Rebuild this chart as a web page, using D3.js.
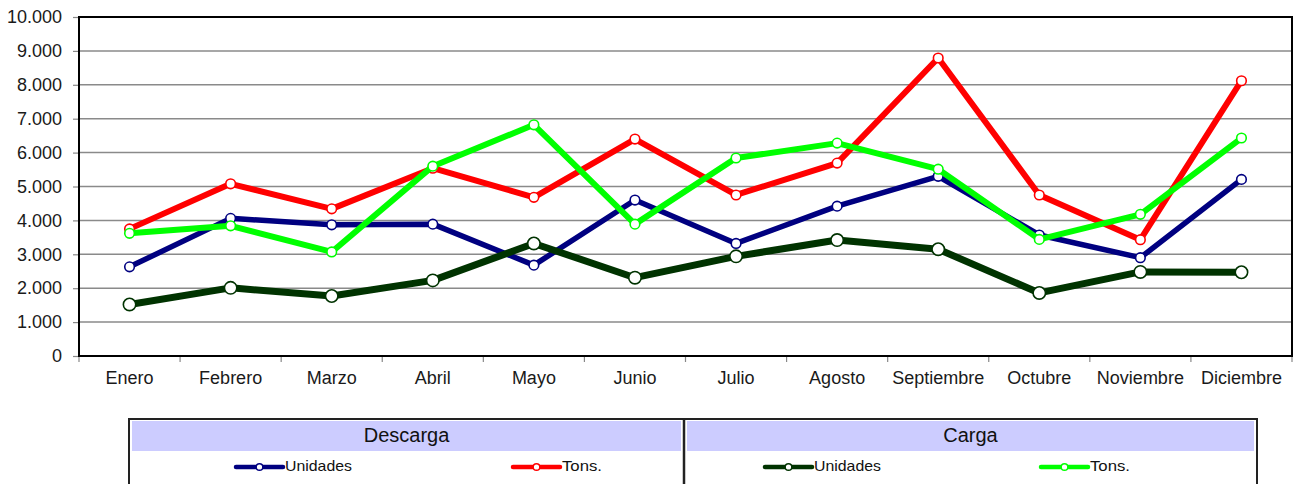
<!DOCTYPE html>
<html>
<head>
<meta charset="utf-8">
<script src="https://cdn.jsdelivr.net/npm/d3@7"></script>
<style>
  html, body { margin: 0; padding: 0; background: #fff; }
  svg { display: block; font-family: "Liberation Sans", Arial, sans-serif; }
</style>
</head>
<body>
<svg id="chart" width="1297" height="484"></svg>
<script>
// Monthly movements
const months = ["Enero", "Febrero", "Marzo", "Abril", "Mayo", "Junio", "Julio",
                "Agosto", "Septiembre", "Octubre", "Noviembre", "Diciembre"];
const yTicks = [0, 1000, 2000, 3000, 4000, 5000, 6000, 7000, 8000, 9000, 10000];

const descargaUnidades = [2630, 4060, 3870, 3890, 2680, 4600, 3320, 4420, 5300, 3570, 2900, 5210];
const descargaTons     = [3750, 5080, 4340, 5540, 4680, 6400, 4750, 5690, 8790, 4750, 3430, 8120];
const cargaUnidades    = [1520, 2010, 1770, 2230, 3320, 2310, 2940, 3420, 3150, 1860, 2480, 2470];
const cargaTons        = [3620, 3840, 3070, 5600, 6820, 3890, 5840, 6280, 5510, 3440, 4180, 6430];

const series = [
  { name: "Unidades", group: "Descarga", values: descargaUnidades, color: "#000080", width: 5.5, r: 4.8 },
  { name: "Tons.",    group: "Descarga", values: descargaTons,     color: "#ff0000", width: 6,   r: 4.8 },
  { name: "Unidades", group: "Carga",    values: cargaUnidades,    color: "#003300", width: 7,   r: 6.2 },
  { name: "Tons.",    group: "Carga",    values: cargaTons,        color: "#00ff00", width: 6,   r: 4.8 }
];

const svg = d3.select("#chart");
const plot = { left: 79, right: 1292, top: 17, bottom: 356 };

const x = d3.scaleBand().domain(months).range([plot.left, plot.right]).padding(0);
const y = d3.scaleLinear().domain([0, 10000]).range([plot.bottom, plot.top]);

// horizontal gridlines
svg.append("g")
  .selectAll("line")
  .data(yTicks.filter(d => d > 0 && d < 10000))
  .join("line")
  .attr("x1", plot.left).attr("x2", plot.right)
  .attr("y1", d => y(d)).attr("y2", d => y(d))
  .attr("stroke", "#8a8a8a").attr("stroke-width", 1.5);

// y axis
const fmt = d => d3.format(",")(d).replace(/,/g, ".");
const yAxis = svg.append("g")
  .attr("transform", `translate(${plot.left},0)`)
  .call(d3.axisLeft(y).tickValues(yTicks).tickSize(6).tickPadding(11).tickFormat(fmt));
yAxis.select(".domain").remove();
yAxis.selectAll(".tick line").attr("stroke", "#888").attr("stroke-width", 1.2);
yAxis.selectAll(".tick text")
  .attr("font-size", 18).attr("fill", "#1a1a1a")
  .attr("font-family", "'Liberation Sans', Arial, sans-serif");

// x axis: labels centred on months, ticks at category boundaries
const xAxis = svg.append("g")
  .attr("transform", `translate(0,${plot.bottom})`)
  .call(d3.axisBottom(x).tickSize(0).tickPadding(15));
xAxis.select(".domain").remove();
xAxis.selectAll(".tick text")
  .attr("font-size", 18).attr("fill", "#1a1a1a")
  .attr("font-family", "'Liberation Sans', Arial, sans-serif");
svg.append("g")
  .selectAll("line")
  .data(months.map(m => x(m)).concat([plot.right]))
  .join("line")
  .attr("x1", d => d).attr("x2", d => d)
  .attr("y1", plot.bottom).attr("y2", plot.bottom + 6)
  .attr("stroke", "#888").attr("stroke-width", 1.2);

// plot frame
svg.append("rect")
  .attr("x", plot.left).attr("y", plot.top)
  .attr("width", plot.right - plot.left).attr("height", plot.bottom - plot.top)
  .attr("fill", "none").attr("stroke", "#000").attr("stroke-width", 2);

// series lines and markers
const cx = m => x(m) + x.bandwidth() / 2;
const line = d3.line().x((d, i) => cx(months[i])).y(d => y(d));

series.forEach(s => {
  const g = svg.append("g");
  g.append("path")
    .attr("d", line(s.values))
    .attr("fill", "none")
    .attr("stroke", s.color)
    .attr("stroke-width", s.width)
    .attr("stroke-linejoin", "round");
  g.selectAll("circle")
    .data(s.values)
    .join("circle")
    .attr("cx", (d, i) => cx(months[i]))
    .attr("cy", d => y(d))
    .attr("r", s.r)
    .attr("fill", "#fff")
    .attr("stroke", s.color)
    .attr("stroke-width", 1.6);
});

// legend table
const legend = { left: 129, right: 1257, top: 419, divider: 684, headerH: 31 };
const lg = svg.append("g");
lg.append("rect")
  .attr("x", legend.left).attr("y", legend.top)
  .attr("width", legend.right - legend.left).attr("height", 100)
  .attr("fill", "#fff").attr("stroke", "#222").attr("stroke-width", 2);

const groups = [
  { name: "Descarga", x0: legend.left, x1: legend.divider, items: series.filter(s => s.group === "Descarga"), sampleX: [236, 513] },
  { name: "Carga",    x0: legend.divider, x1: legend.right, items: series.filter(s => s.group === "Carga"),    sampleX: [765, 1041] }
];

groups.forEach(gr => {
  lg.append("rect")
    .attr("x", gr.x0 + 3).attr("y", legend.top + 2)
    .attr("width", gr.x1 - gr.x0 - 6).attr("height", legend.headerH - 1)
    .attr("fill", "#ccccff");
  lg.append("text")
    .attr("x", (gr.x0 + gr.x1) / 2).attr("y", legend.top + 18)
    .attr("text-anchor", "middle").attr("dominant-baseline", "middle")
    .attr("font-size", 20).attr("fill", "#111")
    .text(gr.name);
  gr.items.forEach((s, i) => {
    const sx = gr.sampleX[i], sy = 467;
    lg.append("line")
      .attr("x1", sx).attr("x2", sx + 47).attr("y1", sy).attr("y2", sy)
      .attr("stroke", s.color).attr("stroke-width", 4.5).attr("stroke-linecap", "round");
    lg.append("circle")
      .attr("cx", sx + 23.5).attr("cy", sy).attr("r", 3.3)
      .attr("fill", "#fff").attr("stroke", s.color).attr("stroke-width", 1.4);
    lg.append("text")
      .attr("x", sx + 49).attr("y", sy)
      .attr("dominant-baseline", "middle")
      .attr("font-size", 15).attr("fill", "#111")
      .attr("textLength", s.name === "Unidades" ? 67 : 40)
      .attr("lengthAdjust", "spacingAndGlyphs")
      .text(s.name);
  });
});

lg.append("line")
  .attr("x1", legend.divider).attr("x2", legend.divider)
  .attr("y1", legend.top).attr("y2", 484)
  .attr("stroke", "#222").attr("stroke-width", 2.5);
</script>
</body>
</html>
